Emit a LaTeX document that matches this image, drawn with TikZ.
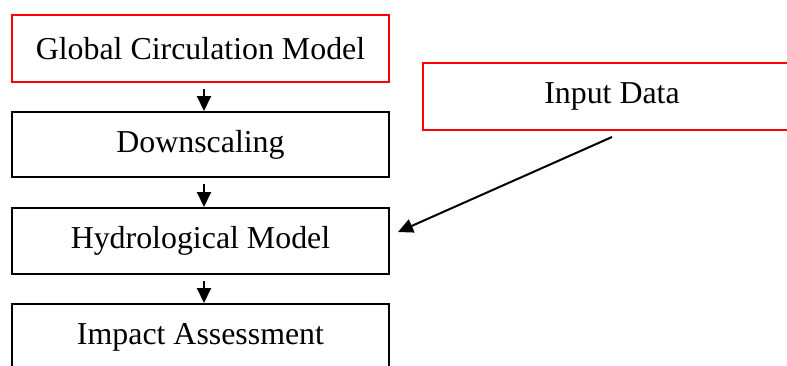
\documentclass[tikz,border=0pt]{standalone}
\usepackage{fontspec}
\setmainfont{Liberation Serif}
\usetikzlibrary{arrows.meta,calc}
\begin{document}
\begin{tikzpicture}[x=1bp,y=-1bp,
  box/.style={draw=black,line width=2bp,minimum width=377bp,minimum height=66bp,inner sep=0pt,font=\fontsize{32}{38}\selectfont,anchor=center},
  redbox/.style={box,draw={rgb,255:red,255;green,0;blue,0}},
  arr/.style={line width=2bp,-{Triangle[length=15bp,width=14bp]}}]
\useasboundingbox[clip] (0,0) rectangle (787,365);
\fill[white] (0,0) rectangle (787,365);
\node[redbox,minimum height=67bp] (gcm) at (200.5,48.5) {Global Circulation Model};
\node[box,minimum height=65bp] (down) at (200.5,144.5) {Downscaling};
\node[box] (hydro) at (200.5,241) {Hydrological Model};
\node[box] (impact) at (200.5,337) {Impact Assessment};
\node[redbox,minimum width=378bp,minimum height=67bp] (input) at (612,96.5) {Input Data};
\draw[arr] ($(gcm.south)+(3.5,6)$) -- ($(down.north)+(3.5,0)$);
\draw[arr] ($(down.south)+(3.5,6)$) -- ($(hydro.north)+(3.5,0)$);
\draw[arr] ($(hydro.south)+(3.5,6)$) -- ($(impact.north)+(3.5,0)$);
\draw[arr] ($(input.south)+(0,6)$) -- ($(hydro.east)+(8,-9)$);
\end{tikzpicture}
\end{document}
